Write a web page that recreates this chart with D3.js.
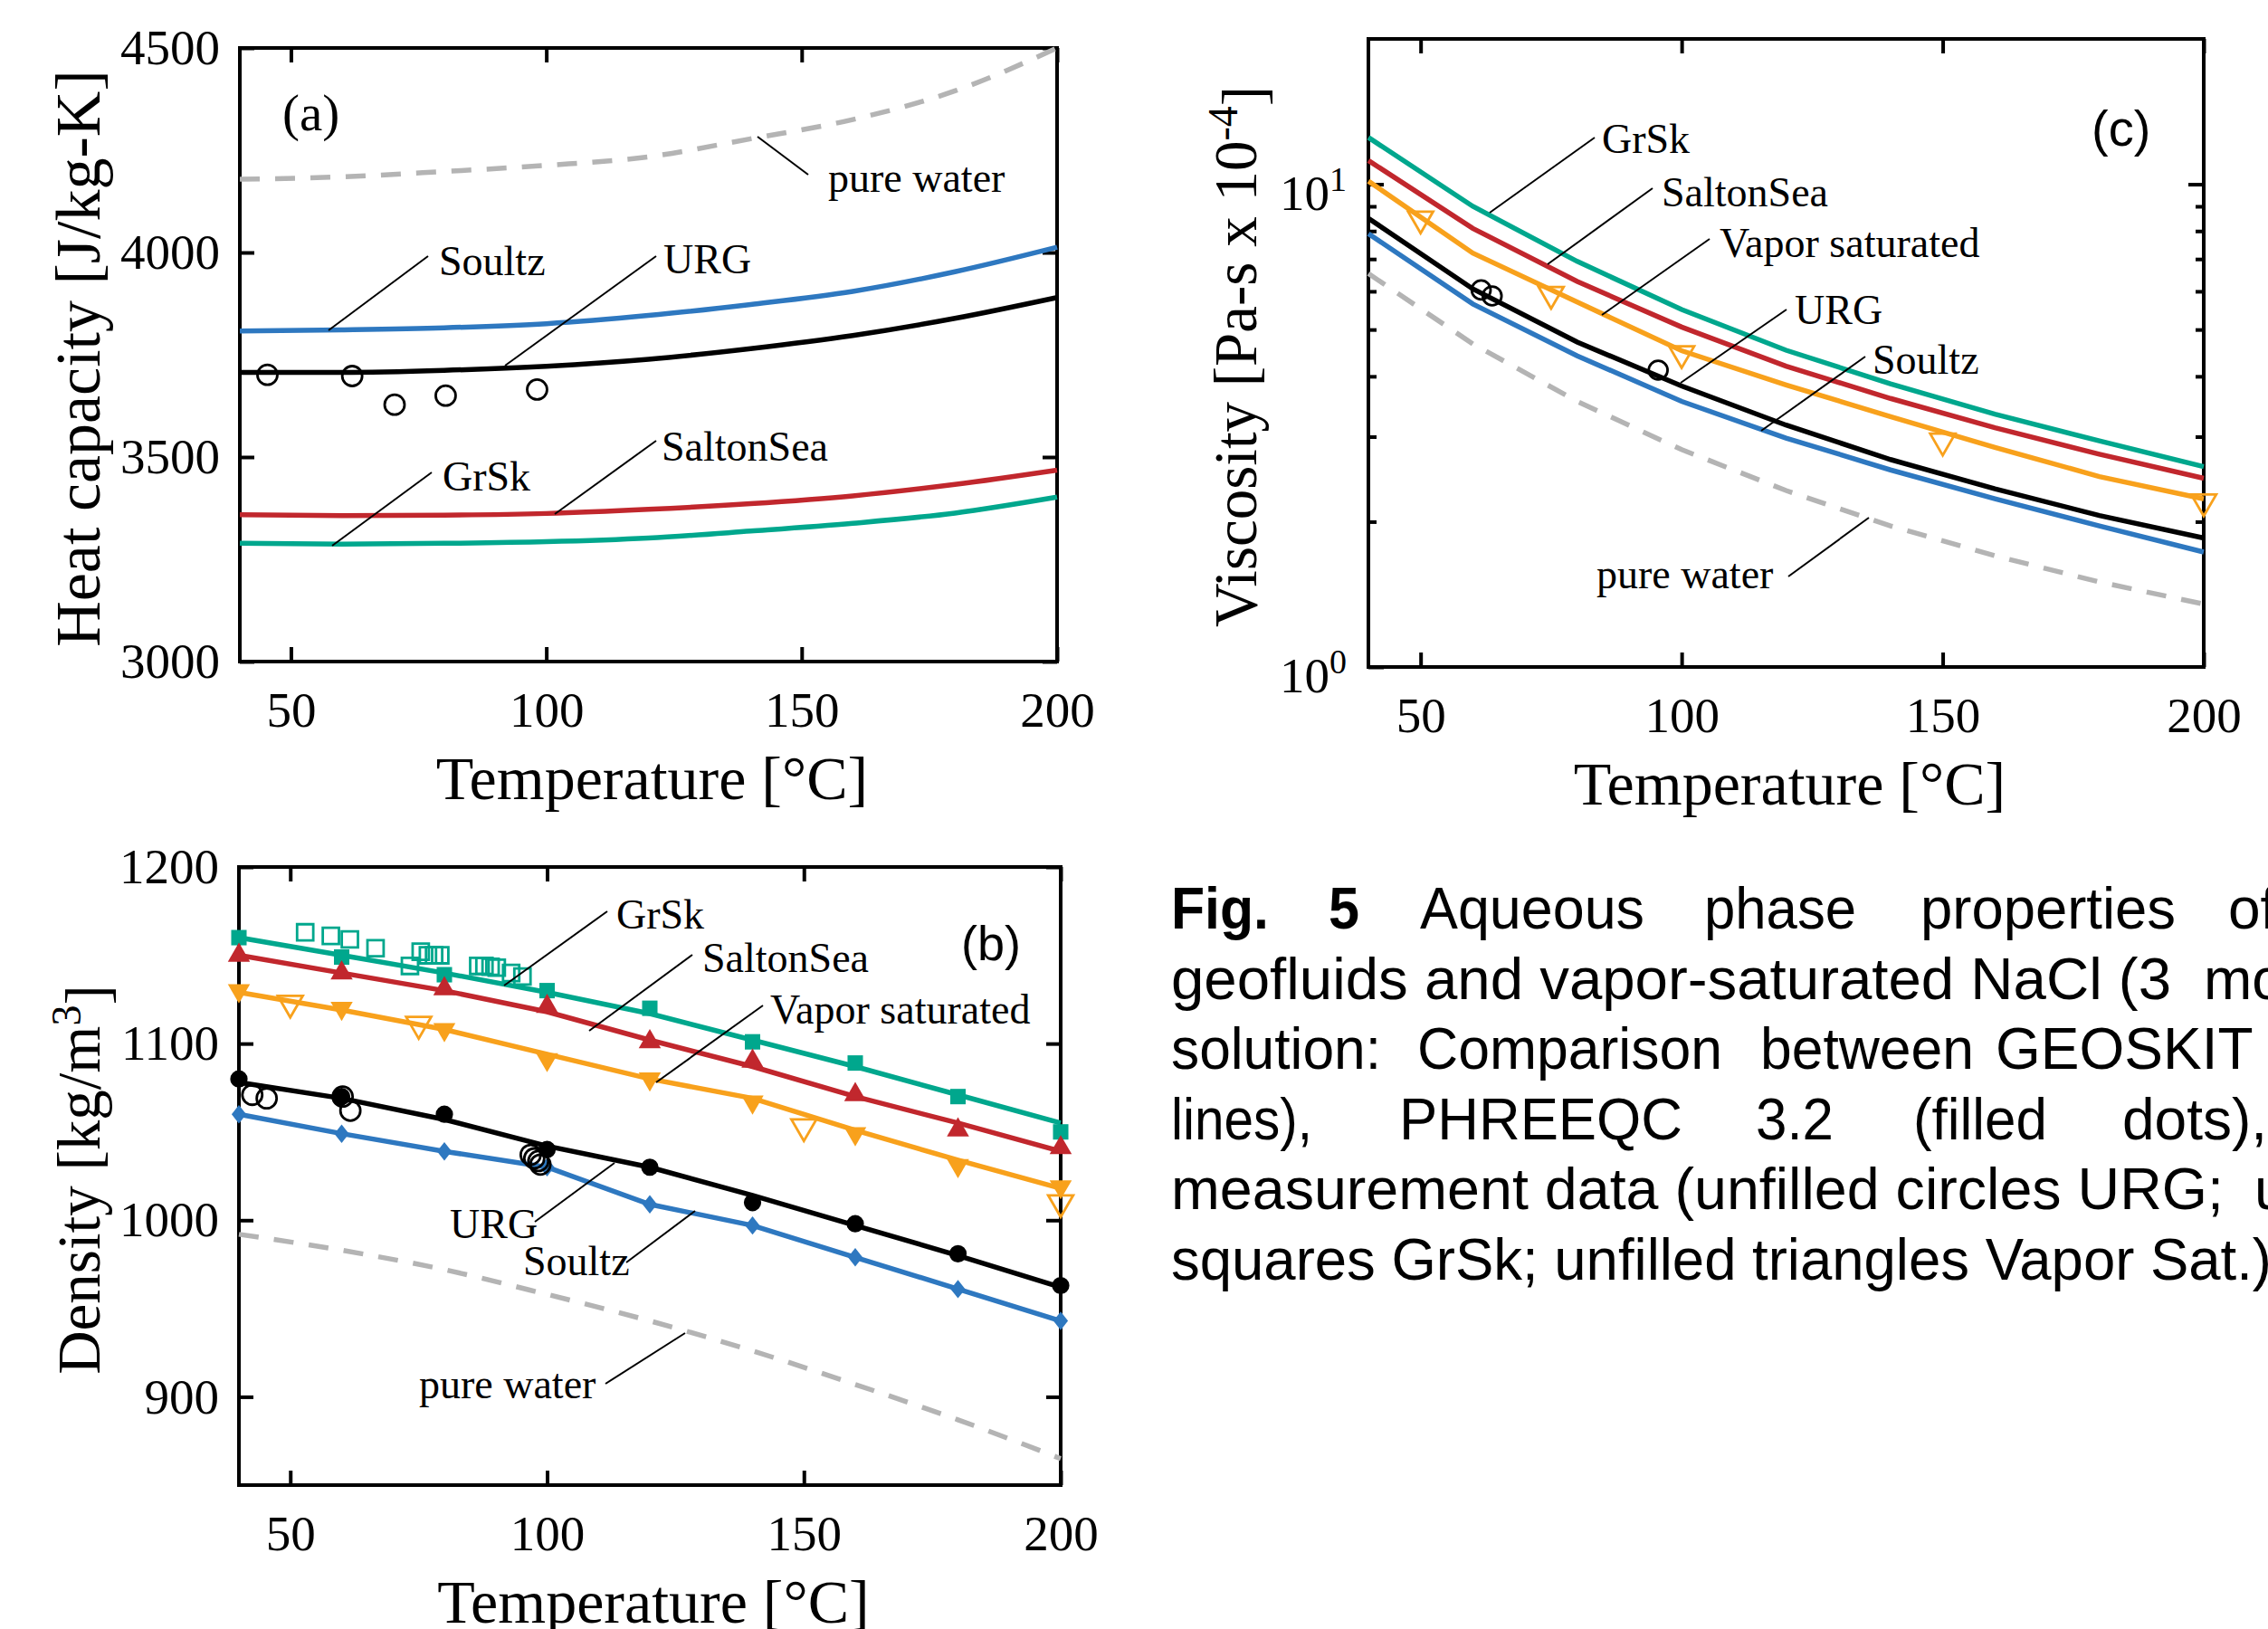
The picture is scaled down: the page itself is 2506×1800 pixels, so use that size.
<!DOCTYPE html>
<html>
<head>
<meta charset="utf-8">
<script src="https://cdn.jsdelivr.net/npm/d3@7"></script>
<style>
  body { margin: 0; background: #fff; }
  svg { display: block; }
</style>
</head>
<body>
<div id="chart"></div>
<script>
// temperature grid of the simulated curves [°C]
const temps = [40, 60, 80, 100, 120, 140, 160, 180, 200];

// (a) heat capacity [J/kg-K]
const cpWater     = [4179, 4185, 4198, 4213, 4234, 4278, 4325, 4395, 4500];
const cpSoultz    = [3808, 3811, 3816, 3826, 3846, 3873, 3905, 3953, 4013];
const cpURG       = [3707, 3707, 3712, 3722, 3739, 3765, 3797, 3839, 3890];
const cpSalton    = [3359, 3357, 3358, 3362, 3372, 3386, 3405, 3433, 3468];
const cpGrSk      = [3289, 3287, 3289, 3293, 3302, 3319, 3338, 3363, 3402];
const cpURGmeas   = [[45.4, 3701], [62, 3698], [70.3, 3628], [80.3, 3650], [98.2, 3665]];

// (b) density [kg/m3], GEOSKIT lines and PHREEQC dots
const rhoWater      = [992, 983, 972, 958, 943, 926, 907, 887, 865];
const rhoGrSk       = [1160, 1150, 1140, 1129, 1117, 1102, 1087, 1071, 1055];
const rhoGrSkPhr    = [1160, 1149, 1139, 1130, 1120, 1101, 1089, 1070, 1050];
const rhoSalton     = [1150, 1140, 1130, 1118, 1102, 1087, 1070, 1055, 1039];
const rhoSaltonPhr  = [1150, 1140, 1131, 1121, 1101, 1090, 1071, 1051, 1041];
const rhoVapor      = [1129, 1119, 1108, 1094, 1080, 1069, 1051, 1034, 1018];
const rhoVaporPhr   = [1130, 1120, 1108, 1091, 1080, 1067, 1049, 1031, 1019];
const rhoURG        = [1078, 1069, 1057, 1042, 1030, 1014, 997, 980, 962];
const rhoURGPhr     = [1080, 1070, 1060, 1040, 1030, 1010, 998, 981, 963];
const rhoSoultz     = [1060, 1049, 1039, 1030, 1009, 997, 979, 961, 943];
const rhoSoultzPhr  = [1060, 1049, 1039, 1030, 1009, 997, 979, 961, 943];
const rhoGrSkMeas   = [[52.9, 1163], [57.9, 1161], [61.6, 1159], [66.6, 1154], [73.3, 1144], [75.4, 1152],
                       [76.8, 1150], [78, 1150], [79.2, 1150], [86.6, 1144], [87.8, 1144], [89, 1143.5],
                       [90.2, 1143], [93, 1140], [95.2, 1138]];
const rhoURGMeas    = [[42.6, 1071], [45.4, 1069], [60.2, 1070], [61.7, 1062], [96.8, 1037], [97.5, 1035],
                       [98.3, 1033.5], [98.7, 1031.5]];
const rhoVaporMeas  = [[50, 1123], [75, 1111], [150, 1053], [200, 1010]];

// (c) viscosity [Pa-s x 10^-4]
const muWater    = [6.53, 4.67, 3.55, 2.82, 2.32, 1.96, 1.70, 1.50, 1.35];
const muGrSk     = [12.5, 9.0, 6.92, 5.5, 4.53, 3.86, 3.34, 2.94, 2.60];
const muSalton   = [11.2, 8.1, 6.29, 5.06, 4.20, 3.60, 3.13, 2.76, 2.46];
const muVapor    = [10.15, 7.2, 5.7, 4.52, 3.84, 3.30, 2.85, 2.48, 2.23];
const muURG      = [8.5, 6.07, 4.71, 3.82, 3.17, 2.69, 2.34, 2.06, 1.85];
const muSoultz   = [7.9, 5.65, 4.41, 3.55, 2.98, 2.56, 2.23, 1.96, 1.73];
const muURGMeas  = [[61.6, 6.04], [63.7, 5.87], [95.5, 4.12]];
const muVaporMeas = [[50, 8.48], [75, 5.92], [100, 4.46], [150, 2.94], [200, 2.20]];

// axis ticks
const tempTicks = [50, 100, 150, 200];
const cpTicks = [3000, 3500, 4000, 4500];
const rhoTicks = [900, 1000, 1100, 1200];
const muTicks = [1, 10];
const muMinor = [2, 3, 4, 5, 6, 7, 8, 9];

const colors = {
  water: "#b4b4b4", GrSk: "#00a78d", Salton: "#c1272d",
  Vapor: "#f8a11c", URG: "#000000", Soultz: "#2e78c0"
};

const serif = "'Palatino Linotype','Book Antiqua',Palatino,'Liberation Serif',serif";
const sans = "'Liberation Sans',Arial,Helvetica,sans-serif";
const W = 2506, H = 1800, TICK = 16, LW = 5.5;

const svg = d3.select("#chart").append("svg")
  .attr("width", W).attr("height", H)
  .attr("viewBox", `0 0 ${W} ${H}`);
svg.append("rect").attr("width", W).attr("height", H).attr("fill", "#fff");

const zip = vals => temps.map((t, i) => [t, vals[i]]);

function makePanel(cfg) {
  const x = d3.scaleLinear().domain([40, 200]).range([cfg.left, cfg.right]);
  const y = (cfg.log ? d3.scaleLog() : d3.scaleLinear())
    .domain(cfg.yDomain).range([cfg.bottom, cfg.top]);
  const g = svg.append("g");

  const styleAxis = sel => {
    sel.select(".domain").remove();
    sel.selectAll("line").attr("stroke", "#000").attr("stroke-width", 4);
    sel.attr("font-family", serif).attr("font-size", 55);
    sel.selectAll("text").attr("fill", "#000");
  };

  g.append("g").attr("transform", `translate(0,${cfg.bottom})`)
    .call(d3.axisBottom(x).tickValues(tempTicks).tickSize(-TICK).tickPadding(33).tickFormat(d3.format("d")))
    .call(styleAxis);
  g.append("g").attr("transform", `translate(0,${cfg.top})`)
    .call(d3.axisTop(x).tickValues(tempTicks).tickSize(-TICK).tickFormat(""))
    .call(styleAxis);

  if (cfg.log) {
    const left = g.append("g").attr("transform", `translate(${cfg.left},0)`)
      .call(d3.axisLeft(y).tickValues(muTicks).tickSize(-17).tickPadding(24).tickFormat(""))
      .call(styleAxis);
    left.selectAll(".tick text").each(function (d) {
      const t = d3.select(this).attr("dy", "0.5em");
      t.append("tspan").text("10");
      t.append("tspan").attr("dy", "-0.55em").attr("font-size", 38).text(Math.round(Math.log10(d)));
    });
    g.append("g").attr("transform", `translate(${cfg.left},0)`)
      .call(d3.axisLeft(y).tickValues(muMinor).tickSize(-9).tickFormat(""))
      .call(styleAxis);
    g.append("g").attr("transform", `translate(${cfg.right},0)`)
      .call(d3.axisRight(y).tickValues([10]).tickSize(-17).tickFormat(""))
      .call(styleAxis);
    g.append("g").attr("transform", `translate(${cfg.right},0)`)
      .call(d3.axisRight(y).tickValues(muMinor).tickSize(-9).tickFormat(""))
      .call(styleAxis);
  } else {
    g.append("g").attr("transform", `translate(${cfg.left},0)`)
      .call(d3.axisLeft(y).tickValues(cfg.yTicks).tickSize(-TICK).tickPadding(22).tickFormat(d3.format("d")))
      .call(styleAxis);
    g.append("g").attr("transform", `translate(${cfg.right},0)`)
      .call(d3.axisRight(y).tickValues(cfg.yTicks).tickSize(-TICK).tickFormat(""))
      .call(styleAxis);
  }

  // frame
  g.append("rect")
    .attr("x", cfg.left).attr("y", cfg.top)
    .attr("width", cfg.right - cfg.left).attr("height", cfg.bottom - cfg.top)
    .attr("fill", "none").attr("stroke", "#000").attr("stroke-width", 4);

  // axis titles
  g.append("text")
    .attr("x", (cfg.left + cfg.right) / 2 + 4).attr("y", cfg.bottom + 152)
    .attr("text-anchor", "middle").attr("font-family", serif).attr("font-size", 68)
    .text("Temperature [°C]");
  const yt = g.append("text")
    .attr("transform", `translate(${cfg.yTitleX},${(cfg.top + cfg.bottom) / 2 + 4}) rotate(-90)`)
    .attr("text-anchor", "middle").attr("font-family", serif).attr("font-size", cfg.yTitleSize || 67);
  cfg.yTitle.forEach(p => {
    const ts = yt.append("tspan").text(p.t);
    if (p.sup) ts.attr("dy", "-0.45em").attr("font-size", 46);
    if (p.after) ts.attr("dy", "0.45em");
  });

  return { g, x, y };
}

function drawLine(p, vals, color, opts = {}) {
  const line = d3.line()
    .x(d => p.x(d[0])).y(d => p.y(d[1]))
    .curve(opts.smooth ? d3.curveMonotoneX : d3.curveLinear);
  p.g.append("path").datum(zip(vals))
    .attr("d", line).attr("fill", "none")
    .attr("stroke", color).attr("stroke-width", opts.width || LW)
    .attr("stroke-dasharray", opts.dash || null);
}

const diamond = {
  draw(ctx, size) {
    const r = Math.sqrt(size) / 2;
    ctx.moveTo(0, -r * 1.2); ctx.lineTo(r * 0.95, 0);
    ctx.lineTo(0, r * 1.2); ctx.lineTo(-r * 0.95, 0); ctx.closePath();
  }
};

function drawMarks(p, pts, shape, size, color, filled, rotate) {
  p.g.append("g").selectAll("path").data(pts).join("path")
    .attr("transform", d => `translate(${p.x(d[0])},${p.y(d[1])})${rotate ? " rotate(180)" : ""}`)
    .attr("d", d3.symbol().type(shape).size(size))
    .attr("fill", filled ? color : "none")
    .attr("stroke", filled ? "none" : color)
    .attr("stroke-width", filled ? 0 : 2.8);
}

function label(p, txt, lx, ly, x1, y1, x2, y2, fam, fs) {
  p.g.append("text").attr("x", lx).attr("y", ly)
    .attr("dominant-baseline", "central")
    .attr("font-family", fam || serif).attr("font-size", fs || 46).text(txt);
  if (x1 !== undefined) {
    p.g.append("line").attr("x1", x1).attr("y1", y1).attr("x2", x2).attr("y2", y2)
      .attr("stroke", "#000").attr("stroke-width", 2);
  }
}

// ---------- (a) heat capacity ----------
const pa = makePanel({
  left: 265, right: 1168, top: 53, bottom: 731,
  yDomain: [3000, 4500], yTicks: cpTicks,
  yTitleX: 110, yTitleSize: 70,
  yTitle: [{ t: "Heat capacity [J/kg-K]" }]
});
drawLine(pa, cpWater, colors.water, { smooth: true, dash: "22,17", width: 5.5 });
drawLine(pa, cpGrSk, colors.GrSk, { smooth: true });
drawLine(pa, cpSalton, colors.Salton, { smooth: true });
drawLine(pa, cpURG, colors.URG, { smooth: true });
drawLine(pa, cpSoultz, colors.Soultz, { smooth: true });
drawMarks(pa, cpURGmeas, d3.symbolCircle, 380, "#000", false);

label(pa, "(a)", 312, 124, undefined, 0, 0, 0, serif, 57);
label(pa, "pure water", 915, 196, 837, 151, 893, 193);
label(pa, "Soultz", 485, 288, 363, 365, 473, 283);
label(pa, "URG", 733, 286, 558, 404, 725, 283);
label(pa, "SaltonSea", 731, 493, 613, 568, 725, 487);
label(pa, "GrSk", 489, 526, 367, 603, 477, 522);

// ---------- (b) density ----------
const pb = makePanel({
  left: 264, right: 1172, top: 958, bottom: 1641,
  yDomain: [850, 1200], yTicks: rhoTicks,
  yTitleX: 110,
  yTitle: [{ t: "Density [kg/m" }, { t: "3", sup: true }, { t: "]", after: true }]
});
drawLine(pb, rhoWater, colors.water, { smooth: true, dash: "22,17", width: 5.5 });
drawLine(pb, rhoGrSk, colors.GrSk);
drawLine(pb, rhoSalton, colors.Salton);
drawLine(pb, rhoVapor, colors.Vapor);
drawLine(pb, rhoURG, colors.URG);
drawLine(pb, rhoSoultz, colors.Soultz);

drawMarks(pb, zip(rhoGrSkPhr), d3.symbolSquare, 290, colors.GrSk, true);
drawMarks(pb, zip(rhoSaltonPhr), d3.symbolTriangle, 260, colors.Salton, true);
drawMarks(pb, zip(rhoVaporPhr), d3.symbolTriangle, 260, colors.Vapor, true, true);
drawMarks(pb, zip(rhoURGPhr), d3.symbolCircle, 290, colors.URG, true);
drawMarks(pb, zip(rhoSoultzPhr), diamond, 290, colors.Soultz, true);
drawMarks(pb, rhoGrSkMeas, d3.symbolSquare, 320, colors.GrSk, false);
drawMarks(pb, rhoURGMeas, d3.symbolCircle, 380, "#000", false);
drawMarks(pb, rhoVaporMeas, d3.symbolTriangle, 330, colors.Vapor, false, true);

label(pb, "(b)", 1062, 1042, undefined, 0, 0, 0, sans, 54);
label(pb, "GrSk", 681, 1010, 557, 1089, 671, 1007);
label(pb, "SaltonSea", 776, 1058, 651, 1139, 765, 1055);
label(pb, "Vapor saturated", 851, 1115, 725, 1196, 843, 1111);
label(pb, "URG", 497, 1352, 591, 1350, 679, 1285);
label(pb, "Soultz", 578, 1393, 692, 1395, 768, 1338);
label(pb, "pure water", 463, 1529, 669, 1529, 757, 1473);

// ---------- (c) viscosity ----------
const pc = makePanel({
  left: 1512, right: 2435, top: 43, bottom: 737, log: true,
  yDomain: [1, 20],
  yTitleX: 1388,
  yTitle: [{ t: "Viscosity [Pa-s x 10" }, { t: "-4", sup: true }, { t: "]", after: true }]
});
drawLine(pc, muWater, colors.water, { dash: "22,17", width: 5.5 });
drawLine(pc, muGrSk, colors.GrSk);
drawLine(pc, muSalton, colors.Salton);
drawLine(pc, muVapor, colors.Vapor);
drawLine(pc, muURG, colors.URG);
drawLine(pc, muSoultz, colors.Soultz);
drawMarks(pc, muURGMeas, d3.symbolCircle, 340, "#000", false);
drawMarks(pc, muVaporMeas, d3.symbolTriangle, 330, colors.Vapor, false, true);

label(pc, "(c)", 2311, 141, undefined, 0, 0, 0, sans, 56);
label(pc, "GrSk", 1770, 153, 1646, 235, 1762, 152);
label(pc, "SaltonSea", 1836, 212, 1710, 292, 1826, 208);
label(pc, "Vapor saturated", 1900, 268, 1770, 348, 1889, 264);
label(pc, "URG", 1983, 342, 1857, 423, 1974, 342);
label(pc, "Soultz", 2069, 397, 1946, 476, 2061, 394);
label(pc, "pure water", 1764, 634, 1976, 637, 2065, 572);

// ---------- caption ----------
const captionLines = [
  [["Fig.", 1294, 108, true], ["5", 1468, 34, true], ["Aqueous", 1569, 248], ["phase", 1883, 168],
   ["properties", 2122, 282], ["of", 2462]],
  [["geofluids and vapor-saturated NaCl (3", 1294, 1105], ["molal)", 2435]],
  [["solution:", 1294, 232], ["Comparison", 1566, 337], ["between", 1945, 236], ["GEOSKIT", 2205]],
  [["lines),", 1294, 156], ["PHREEQC", 1546, 313], ["3.2", 1940, 86], ["(filled", 2114, 148], ["dots),", 2345]],
  [["measurement data (unfilled circles URG;", 1294, 1163], ["unfilled", 2491]],
  [["squares GrSk; unfilled triangles Vapor Sat.)", 1294, 1216]]
];
const cap = svg.append("g").attr("font-family", sans).attr("font-size", 64).attr("fill", "#000");
captionLines.forEach((segs, i) => {
  segs.forEach(s => {
    const t = cap.append("text").attr("x", s[1]).attr("y", 1026 + i * 77.5).text(s[0]);
    if (s[2]) t.attr("textLength", s[2]).attr("lengthAdjust", "spacingAndGlyphs");
    if (s[3]) t.attr("font-weight", "bold");
  });
});
</script>
</body>
</html>
